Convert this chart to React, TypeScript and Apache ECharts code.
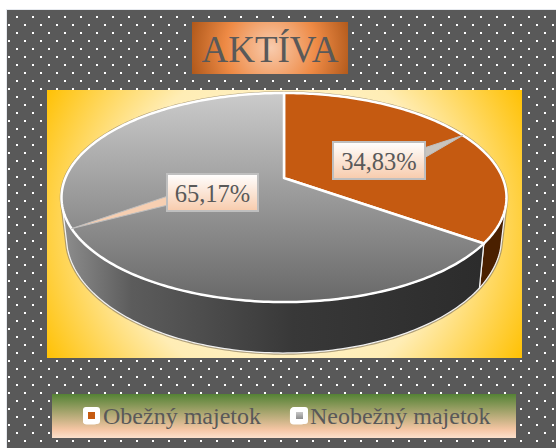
import React, { useEffect, useRef } from "react";
import * as echarts from "echarts";

const titleText = "AKTÍVA";
const categories = ["Obežný majetok", "Neobežný majetok"];
const shareValues = [34.83, 65.17];

const SERIF = '"Liberation Serif", "Times New Roman", serif';
const TEXT = "#595959";

// perspective model of the tilted disc
const CX = 284, K = 0.1867, A = 218.6;
const TOP_Y0 = 178, TOP_B = 100.9;
const BOT_Y0 = 215.3, BOT_B = 112, BOT_S = 0.978;
const WALL_FROM = 106, WALL_TO = 254;

function topPt(deg: number): number[] {
  const r = (deg * Math.PI) / 180, u = Math.sin(r), v = -Math.cos(r), d = 1 - K * v;
  return [CX + (A * u) / d, TOP_Y0 + (TOP_B * v) / d];
}
function botPt(deg: number): number[] {
  const r = (deg * Math.PI) / 180, u = Math.sin(r), v = -Math.cos(r), d = 1 - K * v;
  return [CX + (A * BOT_S * u) / d, BOT_Y0 + (BOT_B * v) / d];
}
function arc(fn: (d: number) => number[], from: number, to: number): number[][] {
  const pts: number[][] = [];
  const n = Math.max(2, Math.ceil(Math.abs(to - from)));
  for (let i = 0; i <= n; i++) pts.push(fn(from + ((to - from) * i) / n));
  return pts;
}

const topGray = new echarts.graphic.LinearGradient(0, 93, 0, 302, [
  { offset: 0, color: "#CBCBCB" },
  { offset: 1, color: "#686868" },
], true);
const wallGray = new echarts.graphic.LinearGradient(65, 0, 480, 0, [
  { offset: 0, color: "#8C8C8C" },
  { offset: 0.16, color: "#5C5C5C" },
  { offset: 0.3, color: "#505050" },
  { offset: 0.55, color: "#383838" },
  { offset: 1, color: "#2C2C2C" },
], true);
const sliceFills: any[] = ["#C55A11", topGray];
const wallFills: any[] = ["#4A2000", wallGray];
const labelBoxes = [
  { x: 333, y: 142, w: 92, h: 37, base: [[424, 148], [424, 158]], leader: "#C9C4BE" },
  { x: 167, y: 174, w: 91, h: 37, base: [[168, 196], [168, 205]], leader: "#F6CFB2" },
];

function makeTile() {
  const c = document.createElement("canvas");
  c.width = 16; c.height = 16;
  const g = c.getContext("2d")!;
  g.fillStyle = "#595959"; g.fillRect(0, 0, 16, 16);
  g.fillStyle = "#FFFFFF"; g.fillRect(0, 0, 2, 2); g.fillRect(8, 8, 2, 2);
  return c;
}

export default function App() {
  const ref = useRef<HTMLDivElement>(null);
  useEffect(() => {
    const chart = echarts.init(ref.current!, null, { renderer: "svg" });
    const total = shareValues.reduce((a, b) => a + b, 0);
    let acc = 0;
    const ranges = shareValues.map((v) => {
      const from = (acc / total) * 360;
      acc += v;
      return [from, (acc / total) * 360];
    });

    const makeSeries = (name: string, i: number) => ({
      type: "custom",
      name,
      coordinateSystem: "none",
      silent: true,
      z: 2 + i,
      itemStyle: { color: "#C55A11" },
      data: [shareValues[i]],
      renderItem: (_p: any, api: any) => {
        const value = api.value(0);
        const [from, to] = ranges[i];
        const mid = (from + to) / 2;
        const children: any[] = [];
        if (i === 0) {
          const outline = [...arc(topPt, 0, WALL_FROM), ...arc(botPt, WALL_FROM, WALL_TO), ...arc(topPt, WALL_TO, 360)];
          children.push({
            type: "polygon", shape: { points: outline },
            style: { fill: "none", stroke: "rgba(150,135,105,0.75)", lineWidth: 3.5 },
          });
        }
        const wa = Math.max(from, WALL_FROM), wb = Math.min(to, WALL_TO);
        if (wb > wa) {
          children.push({
            type: "polygon",
            shape: { points: [...arc(topPt, wa, wb), ...arc(botPt, wb, wa)] },
            style: { fill: wallFills[i], stroke: "#F2F2F2", lineWidth: 1.25 },
          });
        }
        children.push({
          type: "polygon",
          shape: { points: [[CX, TOP_Y0], ...arc(topPt, from, to)] },
          style: { fill: sliceFills[i], stroke: "#FFFFFF", lineWidth: 2.5, lineJoin: "round" },
        });
        const b = labelBoxes[i];
        const fillGrad = new echarts.graphic.LinearGradient(0, 0, 0, 1, [
          { offset: 0, color: "#FFFFFF" },
          { offset: 1, color: "#F7CBAC" },
        ]);
        children.push({
          type: "polygon",
          shape: { points: [b.base[0], topPt(mid), b.base[1]] },
          style: { fill: b.leader, stroke: "#BFBFBF", lineWidth: 1 },
        });
        children.push({
          type: "rect",
          shape: { x: b.x, y: b.y, width: b.w, height: b.h },
          style: { fill: fillGrad, stroke: "#BFBFBF", lineWidth: 2 },
        });
        children.push({
          type: "text",
          style: {
            x: b.x + b.w / 2, y: b.y + b.h / 2 + 1,
            text: value.toFixed(2).replace(".", ",") + "%",
            fill: TEXT, font: `24.5px ${SERIF}`, align: "center", verticalAlign: "middle",
          },
        });
        return { type: "group", children };
      },
    });

    chart.setOption({
      animation: false,
      backgroundColor: "#FFFFFF",
      title: {
        text: titleText, left: 265, top: 26, textAlign: "center",
        textStyle: { fontFamily: SERIF, fontSize: 37, fontWeight: "normal", color: TEXT },
      },
      legend: {
        selectedMode: false,
        left: 83, top: 404, itemWidth: 15, itemHeight: 17, itemGap: 29,
        padding: 0,
        data: [
          { name: categories[0], icon: "roundRect", itemStyle: { color: "#FFFFFF" } },
          { name: categories[1], icon: "roundRect", itemStyle: { color: "#FFFFFF" } },
        ],
        textStyle: { fontFamily: SERIF, fontSize: 24, color: TEXT },
      },
      graphic: [
        { type: "rect", z: 0, shape: { x: 6, y: 9, width: 550, height: 439 }, style: { fill: "#E6E9EE" } },
        {
          type: "rect", z: 0, shape: { x: 7, y: 10, width: 549, height: 438 },
          style: { fill: { image: makeTile(), repeat: "repeat", imageWidth: 16, imageHeight: 16 } },
        },
        {
          type: "rect", z: 1, shape: { x: 192, y: 22, width: 156, height: 52 },
          style: {
            fill: new echarts.graphic.RadialGradient(271, 48, 92, [
              { offset: 0, color: "#F8CBAD" },
              { offset: 0.5, color: "#EE8A45" },
              { offset: 1, color: "#A04C10" },
            ], true),
          },
        },
        {
          type: "rect", z: 1, shape: { x: 47, y: 90, width: 475, height: 268 },
          style: {
            fill: new echarts.graphic.RadialGradient(284, 224, 275, [
              { offset: 0, color: "#FFF8E4" },
              { offset: 0.6, color: "#FFEDB5" },
              { offset: 1, color: "#FFC000" },
            ], true),
          },
        },
        {
          type: "rect", z: 1, shape: { x: 52, y: 394, width: 464, height: 44 },
          style: {
            fill: new echarts.graphic.LinearGradient(0, 0, 0, 1, [
              { offset: 0, color: "#548235" },
              { offset: 0.8, color: "#F4C5A3" },
              { offset: 1, color: "#FBE0CC" },
            ]),
          },
        },
        { type: "rect", z: 99, shape: { x: 83, y: 407, width: 17, height: 17, r: 3 }, style: { fill: "#FFFFFF" } },
        { type: "rect", z: 99, shape: { x: 291, y: 407, width: 17, height: 17, r: 3 }, style: { fill: "#FFFFFF" } },
        { type: "rect", z: 100, shape: { x: 88, y: 412, width: 7, height: 7 }, style: { fill: "#C55A11" } },
        {
          type: "rect", z: 100, shape: { x: 296, y: 412, width: 7, height: 7 },
          style: {
            fill: new echarts.graphic.LinearGradient(0, 0, 0, 1, [
              { offset: 0, color: "#C8C8C8" },
              { offset: 1, color: "#8C8C8C" },
            ]),
          },
        },
      ],
      series: categories.map(makeSeries),
    });
    return () => chart.dispose();
  }, []);
  return <div ref={ref} style={{ position: "absolute", left: 0, top: 0, width: 556, height: 448 }} />;
}
